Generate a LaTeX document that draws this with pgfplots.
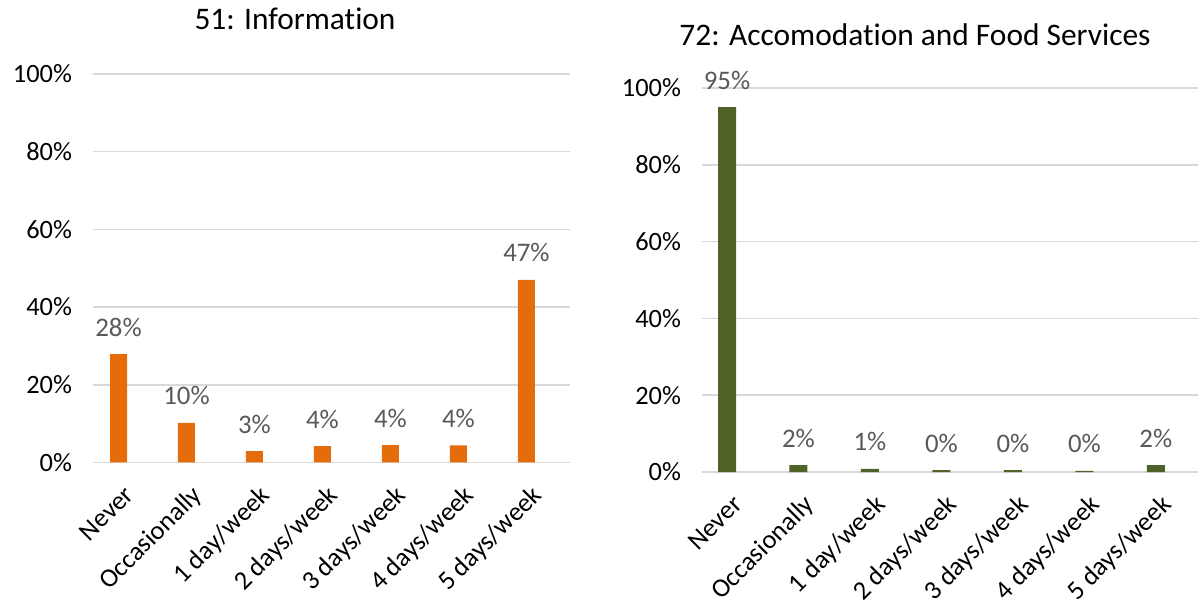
\documentclass[border=0pt]{standalone}
\usepackage{pgfplots}
\pgfplotsset{compat=1.18}
\usepackage{fontspec}
\setmainfont{Carlito}[Ligatures=NoCommon]
\definecolor{barorange}{HTML}{E46C0A}
\definecolor{bargreen}{HTML}{4F6228}
\definecolor{gridgray}{HTML}{D9D9D9}
\definecolor{labgray}{HTML}{595959}
\pgfplotsset{
  mystyle/.style={
    scale only axis,
    ymin=0, ymax=100,
    ytick={0,20,40,60,80,100},
    yticklabel={\pgfmathprintnumber{\tick}\%},
    /pgf/number format/assume math mode=true,
    ymajorgrids,
    grid style={gridgray, line width=0.8pt},
    axis line style={draw=none},
    major tick length=0pt,
    tick style={draw=none},
    xtick={0,1,2,3,4,5,6},
    xticklabels={Never,Occasionally,1 day/week,2 days/week,3 days/week,4 days/week,5 days/week},
    tick label style={font=\fontsize{13.2}{15}\selectfont, text=black},
    yticklabel style={xshift=-7pt},
    xticklabel style={rotate=45, anchor=base east, inner sep=0pt, xshift=-6pt, yshift=-18pt},
    ybar, 
    nodes near coords={\pgfplotspointmeta\%},
    point meta=explicit symbolic,
    every node near coord/.style={font=\fontsize{13.4}{15}\selectfont, text=labgray, anchor=base, inner sep=0pt, yshift=9pt},
  }
}
\begin{document}
\begin{tikzpicture}
\useasboundingbox (0,0) rectangle (599pt,-301.5pt);
\node[font=\fontsize{15.7}{18}\selectfont, anchor=base] at (147.5pt,-15pt) {51: Information};
\node[font=\fontsize{15.7}{18}\selectfont, anchor=base] at (457.5pt,-23pt) {72: Accomodation and Food Services};
\begin{axis}[mystyle,
  at={(46.5pt,-231.25pt)}, anchor=south west,
  width=238.5pt, height=194.25pt,
  xmin=-0.375, xmax=6.64,
  bar width=8.5pt]
\addplot[fill=barorange, draw=none] table[x=x, y=y, meta=lab] {
x y lab
0 27.9 28
1 10.2 10
2 2.9 3
3 4.2 4
4 4.5 4
5 4.4 4
6 47.0 47
};
\end{axis}
\begin{axis}[mystyle,
  at={(351pt,-236pt)}, anchor=south west,
  width=248pt, height=192pt,
  xmin=-0.35, xmax=6.59,
  bar width=9pt]
\addplot[fill=bargreen, draw=none] table[x=x, y=y, meta=lab] {
x y lab
0 95.0 95
1 1.8 2
2 0.8 1
3 0.5 0
4 0.5 0
5 0.3 0
6 1.8 2
};
\end{axis}
\end{tikzpicture}
\end{document}
